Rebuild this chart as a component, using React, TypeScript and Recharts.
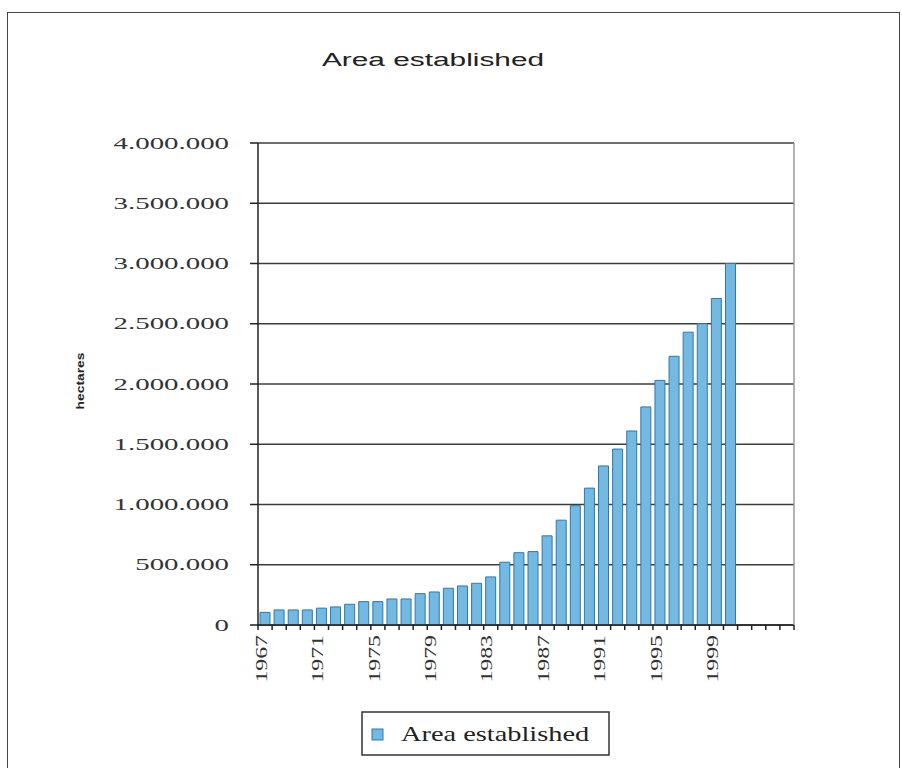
import { Bar, BarChart, CartesianGrid, XAxis, YAxis } from "recharts"

// categories (Excel left 4 blank slots after the last year)
const years = [
  "1967", "1968", "1969", "1970", "1971", "1972", "1973", "1974", "1975", "1976",
  "1977", "1978", "1979", "1980", "1981", "1982", "1983", "1984", "1985", "1986",
  "1987", "1988", "1989", "1990", "1991", "1992", "1993", "1994", "1995", "1996",
  "1997", "1998", "1999", "2000", "", "", "", "",
]

// hectares
const areaEstablished = [
  105000, 125000, 125000, 125000, 140000, 150000, 172000, 194000, 194000, 216000,
  216000, 260000, 274000, 305000, 324000, 346000, 399000, 521000, 600000, 609000,
  740000, 870000, 990000, 1136000, 1320000, 1460000, 1610000, 1810000, 2030000, 2230000,
  2430000, 2500000, 2710000, 3000000,
]

const yTicks = [0, 500000, 1000000, 1500000, 2000000, 2500000, 3000000, 3500000, 4000000]

const TITLE = "Area established"
const SERIES_NAME = "Area established"
const Y_LABEL = "hectares"

const W = 902
const H = 768
const PLOT_LEFT = 258
const PLOT_RIGHT = 794
const PLOT_TOP = 143
const PLOT_BOTTOM = 625
const HALF_BAND = (PLOT_RIGHT - PLOT_LEFT) / years.length / 2

const BAR_FILL = "#74b9e2"
const BAR_STROKE = "#2f78aa"
const SERIF = "'Liberation Serif', 'DejaVu Serif', serif"
const SANS = "'Liberation Sans', Arial, sans-serif"

const data = years.map((year, i) => ({ year, area: areaEstablished[i] }))

function dots(n: number) {
  return String(n).replace(/\B(?=(\d{3})+(?!\d))/g, ".")
}

function YTick({ y, payload }: any) {
  return (
    <text
      transform={`translate(229, ${y}) scale(1.75, 1)`}
      textAnchor="end"
      dominantBaseline="central"
      fontFamily={SERIF}
      fontSize={16.5}
      fill="#333"
    >
      {dots(payload.value)}
    </text>
  )
}

function XTick({ x, payload, index }: any) {
  const left = x - HALF_BAND
  const isLast = index === years.length - 1
  return (
    <g>
      <line x1={left} x2={left} y1={PLOT_BOTTOM} y2={PLOT_BOTTOM + 5} stroke="#222" strokeWidth={1.5} />
      {isLast && (
        <line x1={x + HALF_BAND} x2={x + HALF_BAND} y1={PLOT_BOTTOM} y2={PLOT_BOTTOM + 5} stroke="#222" strokeWidth={1.5} />
      )}
      {index % 4 === 0 && payload.value && (
        <text
          transform={`translate(${x - 4}, ${PLOT_BOTTOM + 10}) rotate(-90) scale(1.4, 1)`}
          textAnchor="end"
          dominantBaseline="central"
          fontFamily={SERIF}
          fontSize={17}
          fill="#333"
        >
          {payload.value}
        </text>
      )}
    </g>
  )
}

export default function App() {
  return (
    <div style={{ position: "fixed", left: 0, top: 0, width: W, height: H, overflow: "hidden", background: "#fff" }}>
      {/* outer frame, runs off the bottom */}
      <div
        style={{
          position: "absolute",
          left: 7,
          top: 12,
          width: 891,
          height: 820,
          border: "1.5px solid #444",
        }}
      />
      <div style={{ position: "absolute", left: 0, top: 0 }}>
        <BarChart
          width={W}
          height={H}
          data={data}
          barSize={10}
          margin={{ top: PLOT_TOP, right: W - PLOT_RIGHT - 1, bottom: H - PLOT_BOTTOM - 70, left: 0 }}
        >
          <CartesianGrid vertical={false} stroke="#3c3c3c" strokeWidth={1.5} />
          <XAxis
            dataKey="year"
            height={70}
            interval={0}
            tickLine={false}
            axisLine={{ stroke: "#222", strokeWidth: 1.5 }}
            tick={<XTick />}
          />
          <YAxis
            width={PLOT_LEFT}
            domain={[0, 4000000]}
            ticks={yTicks}
            tickSize={8}
            tickLine={{ stroke: "#222", strokeWidth: 1.5 }}
            axisLine={{ stroke: "#222", strokeWidth: 1.5 }}
            tick={<YTick />}
          />
          <YAxis
            yAxisId="r"
            orientation="right"
            width={1}
            domain={[0, 1]}
            tick={false}
            tickLine={false}
            axisLine={{ stroke: "#9a9a9a", strokeWidth: 1.5 }}
          />
          <Bar
            dataKey="area"
            name={SERIES_NAME}
            fill={BAR_FILL}
            stroke={BAR_STROKE}
            strokeWidth={1}
            isAnimationActive={false}
          />
        </BarChart>
      </div>
      <svg width={W} height={H} style={{ position: "absolute", left: 0, top: 0, pointerEvents: "none" }}>
        <text
          transform="translate(433, 66) scale(1.57, 1)"
          textAnchor="middle"
          fontFamily={SANS}
          fontSize={19}
          fill="#222"
        >
          {TITLE}
        </text>
        <text
          transform="translate(81, 381) rotate(-90) scale(1.38, 1)"
          textAnchor="middle"
          dominantBaseline="central"
          fontFamily={SANS}
          fontWeight="bold"
          fontSize={10}
          fill="#222"
        >
          {Y_LABEL}
        </text>
        {/* legend */}
        <rect x={362} y={712} width={247} height={43} fill="#fff" stroke="#333" strokeWidth={1.5} />
        <rect x={372} y={729} width={11} height={11} fill={BAR_FILL} stroke={BAR_STROKE} strokeWidth={1} />
        <text
          transform="translate(401, 741) scale(1.29, 1)"
          fontFamily={SERIF}
          fontSize={22}
          fill="#222"
        >
          {SERIES_NAME}
        </text>
      </svg>
    </div>
  )
}
